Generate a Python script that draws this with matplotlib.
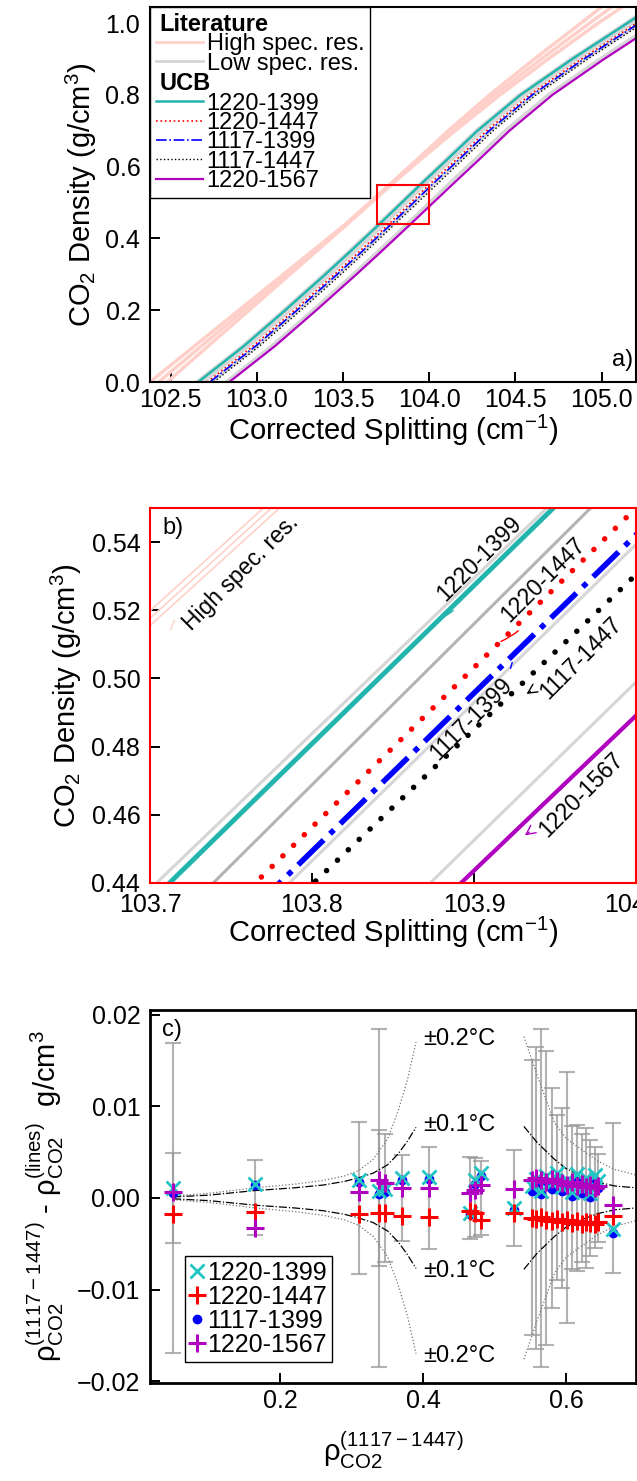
import matplotlib
matplotlib.use('Agg')
import matplotlib.pyplot as plt
from matplotlib.lines import Line2D
from matplotlib.patches import Rectangle

# ---- data: calibration curves, splitting (cm-1) at each density (g/cm3) ----
density = [0.0, 0.1, 0.2, 0.3, 0.36, 0.44, 0.55, 0.62, 0.7, 0.8, 0.9, 1.0, 1.045]

high_res_1 = [102.38, 102.638, 102.896, 103.154, 103.309, 103.515, 103.770, 103.93, 104.11, 104.35, 104.61, 104.88, 105.00]
high_res_2 = [102.48, 102.717, 102.955, 103.192, 103.335, 103.525, 103.780, 103.95, 104.15, 104.41, 104.69, 104.98, 105.12]
high_res_3 = [102.43, 102.678, 102.925, 103.173, 103.322, 103.520, 103.775, 103.94, 104.13, 104.38, 104.65, 104.93, 105.06]

low_res_1 = [102.652, 102.917, 103.157, 103.39, 103.526, 103.704, 103.945, 104.097, 104.272, 104.522, 104.822, 105.142, 105.282]
low_res_2 = [102.687, 102.952, 103.192, 103.425, 103.561, 103.739, 103.972, 104.132, 104.307, 104.557, 104.857, 105.177, 105.317]
low_res_3 = [102.734, 102.999, 103.239, 103.472, 103.608, 103.786, 104.023, 104.179, 104.354, 104.604, 104.904, 105.224, 105.364]
low_res_4 = [102.821, 103.086, 103.326, 103.559, 103.695, 103.873, 104.110, 104.266, 104.441, 104.691, 104.991, 105.311, 105.451]

ucb_1220_1399 = [102.66, 102.925, 103.165, 103.398, 103.534, 103.712, 103.949, 104.105, 104.28, 104.53, 104.83, 105.15, 105.29]
ucb_1220_1447 = [102.713, 102.978, 103.218, 103.451, 103.587, 103.765, 104.000, 104.158, 104.333, 104.583, 104.883, 105.203, 105.343]
ucb_1117_1399 = [102.728, 102.993, 103.233, 103.466, 103.602, 103.780, 104.017, 104.173, 104.348, 104.598, 104.898, 105.218, 105.358]
ucb_1117_1447 = [102.75, 103.015, 103.255, 103.488, 103.624, 103.801, 104.043, 104.195, 104.37, 104.62, 104.92, 105.24, 105.38]
ucb_1220_1567 = [102.84, 103.105, 103.345, 103.578, 103.714, 103.892, 104.134, 104.29, 104.465, 104.715, 105.015, 105.335, 105.475]

zoom_x = (103.7, 104.0)
zoom_y = (0.44, 0.55)

# ---- data: residuals (panel c) ----
rho_ref = [0.050, 0.165, 0.310, 0.338, 0.347, 0.371, 0.408, 0.465, 0.473, 0.481, 0.527,
           0.552, 0.558, 0.565, 0.572, 0.580, 0.588, 0.595, 0.602, 0.608, 0.615,
           0.622, 0.628, 0.634, 0.640, 0.645, 0.666]
res_1220_1399 = [0.0011, 0.0015, 0.0019, 0.0008, 0.0010, 0.0022, 0.0023, -0.0016, 0.0020, 0.0027, -0.0011,
                 0.0013, 0.0021, 0.0008, 0.0024, 0.0016, 0.0027, 0.0012, 0.0020, 0.0006, 0.0026,
                 0.0010, 0.0022, 0.0005, 0.0025, 0.0018, -0.0034]
res_1220_1447 = [-0.0018, -0.0015, -0.0018, -0.0017, -0.0016, -0.0020, -0.0021, -0.0014, -0.0017, -0.0024, -0.0017,
                 -0.0022, -0.0023, -0.0021, -0.0024, -0.0025, -0.0023, -0.0026, -0.0024, -0.0027, -0.0025,
                 -0.0028, -0.0026, -0.0027, -0.0029, -0.0026, -0.0020]
res_1117_1399 = [0.0005, 0.0014, 0.0017, 0.0004, 0.0006, 0.0020, 0.0021, -0.0018, 0.0015, 0.0024, -0.0013,
                 0.0008, 0.0014, 0.0004, 0.0018, 0.0010, 0.0020, 0.0007, 0.0013, 0.0002, 0.0019,
                 0.0005, 0.0015, 0.0001, 0.0017, 0.0011, -0.0038]
res_1220_1567 = [0.0006, -0.0033, 0.0006, 0.0019, 0.0016, 0.0011, 0.0011, 0.0005, 0.0009, 0.0014, 0.0010,
                 0.0020, 0.0022, 0.0019, 0.0017, 0.0021, 0.0018, 0.0016, 0.0014, 0.0017, 0.0013,
                 0.0015, 0.0012, 0.0014, 0.0011, 0.0013, -0.0008]

err_x = [0.050, 0.050, 0.165, 0.310, 0.338, 0.338, 0.347, 0.371, 0.408, 0.465, 0.473, 0.481, 0.527,
         0.552, 0.558, 0.565, 0.572, 0.580, 0.588, 0.595, 0.602, 0.608, 0.615, 0.622, 0.628,
         0.634, 0.640, 0.645, 0.666]
err_half = [0.0169, 0.0049, 0.0041, 0.0083, 0.0184, 0.0074, 0.0070, 0.0047, 0.0056, 0.0045, 0.0043, 0.0040, 0.0052,
            0.0150, 0.0165, 0.0184, 0.0160, 0.0120, 0.0090, 0.0098, 0.0137, 0.0078, 0.0080, 0.0070, 0.0076,
            0.0063, 0.0055, 0.0048, 0.0082]

# temperature envelopes (+/-), left and right branches
env_left_x = [0.05, 0.10, 0.165, 0.22, 0.26, 0.29, 0.31, 0.33, 0.35, 0.365, 0.378, 0.39]
env_left_01 = [0.0001, 0.0003, 0.0008, 0.0011, 0.0014, 0.0018, 0.0022, 0.0027, 0.0036, 0.0048, 0.0062, 0.0077]
env_left_02 = [0.0002, 0.0005, 0.0011, 0.0015, 0.0019, 0.0024, 0.0030, 0.0042, 0.0064, 0.0095, 0.0129, 0.0170]
env_right_x = [0.541, 0.56, 0.584, 0.60, 0.621, 0.645, 0.668, 0.698]
env_right_01 = [0.0078, 0.0060, 0.0042, 0.0032, 0.0024, 0.0017, 0.0013, 0.0011]
env_right_02 = [0.0176, 0.0133, 0.0082, 0.0065, 0.0053, 0.0040, 0.0031, 0.0025]

# ---- style ----
plt.rcParams['font.family'] = 'Liberation Sans'
plt.rcParams['mathtext.fontset'] = 'custom'
plt.rcParams['mathtext.rm'] = 'Liberation Sans'
plt.rcParams['mathtext.it'] = 'Liberation Sans'
plt.rcParams['mathtext.bf'] = 'Liberation Sans:bold'
plt.rcParams['xtick.direction'] = 'in'
plt.rcParams['ytick.direction'] = 'in'
plt.rcParams['xtick.labelsize'] = 18
plt.rcParams['ytick.labelsize'] = 18
plt.rcParams['axes.labelsize'] = 21

pink = '#FFD0C9'
light_grey = '#D6D6D6'
mid_grey = '#B4B4B4'
teal = '#22B5AD'
magenta = '#B000C0'

W, H = 637, 1481
fig = plt.figure(figsize=(W / 100, H / 100), dpi=100)


def style_axes(ax, lw=1.5, xpad=4):
    for s in ax.spines.values():
        s.set_linewidth(lw)
    ax.tick_params(top=False, right=False, length=7, width=1.4)
    ax.tick_params(axis='x', pad=xpad)
    ax.tick_params(axis='y', pad=7)


# ---------------- panel a ----------------
ax = fig.add_axes([150 / W, (H - 382) / H, 486 / W, 375 / H])
for xs in (high_res_1, high_res_2, high_res_3):
    ax.plot(xs, density, color=pink, lw=2.5)
for xs in (low_res_1, low_res_2, low_res_3, low_res_4):
    ax.plot(xs, density, color=light_grey, lw=2.5)
l1, = ax.plot(ucb_1220_1399, density, color=teal, lw=1.8)
l2, = ax.plot(ucb_1220_1447, density, color='red', ls=':', lw=1.2)
l3, = ax.plot(ucb_1117_1399, density, color='blue', ls='-.', lw=1.2)
l4, = ax.plot(ucb_1117_1447, density, color='black', ls=':', lw=1.0)
l5, = ax.plot(ucb_1220_1567, density, color=magenta, lw=1.6)
ax.add_patch(Rectangle((zoom_x[0], zoom_y[0]), zoom_x[1] - zoom_x[0], zoom_y[1] - zoom_y[0],
                       fill=False, ec='red', lw=1.5, zorder=5))
ax.set_xlim(102.38, 105.2)
ax.set_ylim(0, 1.045)
ax.set_xticks([102.5, 103.0, 103.5, 104.0, 104.5, 105.0])
ax.set_yticks([0.0, 0.2, 0.4, 0.6, 0.8, 1.0])
ax.set_xlabel('Corrected Splitting (cm$^{-1}$)')
ax.set_ylabel('CO$_2$ Density (g/cm$^3$)')
ax.xaxis.set_label_coords(0.5, -0.082)
ax.yaxis.set_label_coords(-0.105, 0.5)
style_axes(ax)
ax.text(0.995, 0.03, 'a)', transform=ax.transAxes, ha='right', va='bottom', fontsize=17)

blank = Line2D([], [], color='none')
handles = [blank, Line2D([], [], color=pink, lw=2), Line2D([], [], color=light_grey, lw=2),
           blank, l1, l2, l3, l4, l5]
labels = ['Literature', 'High spec. res.', 'Low spec. res.', 'UCB',
          '1220-1399', '1220-1447', '1117-1399', '1117-1447', '1220-1567']
leg = ax.legend(handles, labels, loc='upper left', bbox_to_anchor=(0, 1), borderaxespad=0,
                fontsize=17, handlelength=2.0, handletextpad=0.15, labelspacing=-0.11,
                borderpad=0.25, fancybox=False, edgecolor='black', framealpha=1)
leg.get_frame().set_linewidth(1.0)
for t in leg.get_texts():
    if t.get_text() in ('Literature', 'UCB'):
        t.set_fontweight('bold')
for col in leg._legend_handle_box.get_children():
    for row in col.get_children():
        kids = row.get_children()
        if kids[1].get_text() in ('Literature', 'UCB'):
            kids[0].set_width(0)

# ---------------- panel b ----------------
ax = fig.add_axes([150 / W, (H - 883) / H, 486 / W, 375 / H])
for xs in (high_res_1, high_res_2, high_res_3):
    ax.plot(xs, density, color=pink, lw=1.2)
ax.plot(low_res_1, density, color=light_grey, lw=2.2)
ax.plot(low_res_2, density, color=mid_grey, lw=2.2)
ax.plot(low_res_3, density, color=light_grey, lw=2.2)
ax.plot(low_res_4, density, color=light_grey, lw=2.2)
ax.plot(ucb_1220_1399, density, color=teal, lw=3.5)
ax.plot(ucb_1220_1447, density, color='red', lw=4, dashes=(0.01, 2.7), dash_capstyle='round')
ax.plot(ucb_1117_1399, density, color='blue', ls='-.', lw=4)
ax.plot(ucb_1117_1447, density, color='black', lw=4, dashes=(0.01, 2.7), dash_capstyle='round')
ax.plot(ucb_1220_1567, density, color=magenta, lw=3)
ax.set_xlim(*zoom_x)
ax.set_ylim(*zoom_y)
ax.set_xticks([103.7, 103.8, 103.9, 104.0])
ax.set_yticks([0.44, 0.46, 0.48, 0.50, 0.52, 0.54])
ax.set_xlabel('Corrected Splitting (cm$^{-1}$)')
ax.set_ylabel('CO$_2$ Density (g/cm$^3$)')
ax.xaxis.set_label_coords(0.5, -0.086)
ax.yaxis.set_label_coords(-0.135, 0.5)
style_axes(ax, xpad=7.5)
for s in ax.spines.values():
    s.set_edgecolor('red')
ax.text(0.025, 0.975, 'b)', transform=ax.transAxes, ha='left', va='top', fontsize=17)

ann_fs = 16.5
ax.annotate('High spec. res.', xy=(103.712, 0.5135), xytext=(103.756, 0.531), rotation=45,
            ha='center', va='center', fontsize=ann_fs,
            arrowprops=dict(arrowstyle='-', color=pink, lw=1, connectionstyle='arc3,rad=0.3'))
ax.annotate('1220-1399', xy=(103.875, 0.5165), xytext=(103.903, 0.535), rotation=45,
            ha='center', va='center', fontsize=ann_fs,
            arrowprops=dict(arrowstyle='-', color=teal, lw=1, connectionstyle='arc3,rad=-0.3'))
ax.annotate('1220-1447', xy=(103.915, 0.5105), xytext=(103.943, 0.529), rotation=45,
            ha='center', va='center', fontsize=ann_fs,
            arrowprops=dict(arrowstyle='-', color='red', lw=1, connectionstyle='arc3,rad=-0.3'))
ax.annotate('1117-1399', xy=(103.924, 0.5055), xytext=(103.898, 0.488), rotation=45,
            ha='center', va='center', fontsize=ann_fs,
            arrowprops=dict(arrowstyle='-', color='blue', lw=1, connectionstyle='arc3,rad=0.2'))
ax.annotate('1117-1447', xy=(103.931, 0.495), xytext=(103.966, 0.506), rotation=45,
            ha='center', va='center', fontsize=ann_fs,
            arrowprops=dict(arrowstyle='->', color='black', lw=1))
ax.annotate('1220-1567', xy=(103.93, 0.4535), xytext=(103.966, 0.466), rotation=45,
            ha='center', va='center', fontsize=ann_fs,
            arrowprops=dict(arrowstyle='->', color=magenta, lw=1))

# ---------------- panel c ----------------
ax = fig.add_axes([150 / W, (H - 1383) / H, 486 / W, 373 / H])
ax.errorbar(err_x, [0] * len(err_x), yerr=err_half, fmt='none', ecolor='#999999', alpha=0.75,
            elinewidth=1.5, capsize=5.5, capthick=1.5, zorder=1)
for sign in (1, -1):
    ax.plot(env_left_x, [sign * v for v in env_left_02], color='#777777', ls=':', lw=0.9, zorder=2)
    ax.plot(env_right_x, [sign * v for v in env_right_02], color='#777777', ls=':', lw=0.9, zorder=2)
    ax.plot(env_left_x, [sign * v for v in env_left_01], color='black', ls='-.', lw=0.9, zorder=2)
    ax.plot(env_right_x, [sign * v for v in env_right_01], color='black', ls='-.', lw=0.9, zorder=2)

p_blue, = ax.plot(rho_ref, res_1117_1399, 'o', color='blue', ms=6, ls='none', zorder=3)
p_teal, = ax.plot(rho_ref, res_1220_1399, 'x', color='#22C4C4', ms=10, mew=2, ls='none', zorder=4)
p_red, = ax.plot(rho_ref, res_1220_1447, '+', color='red', ms=13, mew=2.2, ls='none', zorder=4)
p_mag, = ax.plot(rho_ref, res_1220_1567, '+', color=magenta, ms=13, mew=2.2, ls='none', zorder=5)

for yv, lab in ((0.0173, '±0.2°C'), (0.0080, '±0.1°C'), (-0.0080, '±0.1°C'), (-0.0173, '±0.2°C')):
    ax.text(0.400, yv, lab, ha='left', va='center', fontsize=17)

ax.set_xlim(0.0175, 0.698)
ax.set_ylim(-0.0202, 0.0205)
ax.set_xticks([0.2, 0.4, 0.6])
ax.set_yticks([-0.02, -0.01, 0.0, 0.01, 0.02])
ax.set_xlabel(r'$\mathrm{ρ}_{\mathrm{CO2}}^{(1117-1447)}$')
ax.set_ylabel(r'$\mathrm{ρ}_{\mathrm{CO2}}^{(1117-1447)}$ - $\mathrm{ρ}_{\mathrm{CO2}}^{(\mathrm{lines})}$  g/cm$^{3}$')
ax.xaxis.set_label_coords(0.5, -0.125)
ax.yaxis.set_label_coords(-0.173, 0.5)
style_axes(ax, lw=2)
ax.text(0.025, 0.975, 'c)', transform=ax.transAxes, ha='left', va='top', fontsize=17)

ax.legend([p_teal, p_red, p_blue, p_mag], ['1220-1399', '1220-1447', '1117-1399', '1220-1567'],
          loc='lower left', bbox_to_anchor=(0.072, 0.056), borderaxespad=0, fontsize=18,
          handlelength=0.6, handletextpad=0.1, labelspacing=0.0, borderpad=0.2,
          fancybox=False, edgecolor='black', framealpha=1)

fig.savefig('out.png', dpi=100)
